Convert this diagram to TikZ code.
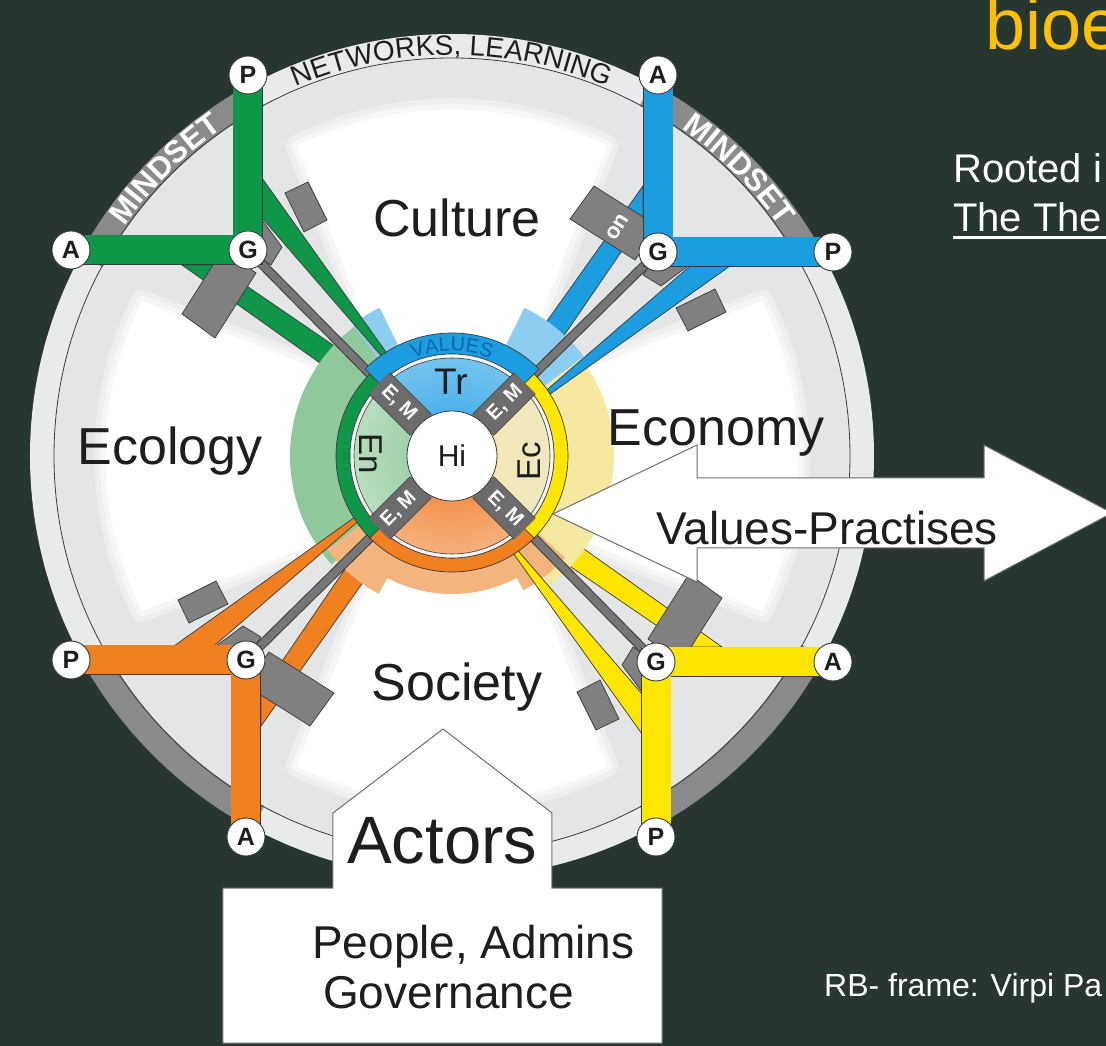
\documentclass[tikz,border=0pt]{standalone}
\usepackage{fontspec}
\setmainfont{Liberation Sans}
\usetikzlibrary{decorations.text}
\pgfdeclarelayer{front}
\pgfsetlayers{main,front}
\definecolor{bgdark}{RGB}{39,54,46}
\definecolor{ringlight}{RGB}{233,234,235}
\definecolor{innerlight}{RGB}{228,229,230}
\definecolor{fadeA}{RGB}{237,238,238}
\definecolor{fadeB}{RGB}{246,246,246}
\definecolor{bandgray}{RGB}{138,138,138}
\definecolor{edge}{RGB}{58,58,58}
\definecolor{blockgray}{RGB}{128,128,128}
\definecolor{linegray}{RGB}{118,118,118}
\definecolor{emgray}{RGB}{108,108,108}
\definecolor{cgreen}{RGB}{16,150,72}
\definecolor{cblue}{RGB}{27,157,224}
\definecolor{cyellow}{RGB}{255,230,0}
\definecolor{corange}{RGB}{240,128,32}
\definecolor{lgreen}{RGB}{143,200,155}
\definecolor{lblue}{RGB}{140,205,240}
\definecolor{lyellow}{RGB}{245,232,160}
\definecolor{lorange}{RGB}{244,180,125}
\definecolor{valblue}{RGB}{20,100,175}
\definecolor{gold}{RGB}{255,192,0}
\definecolor{txt}{RGB}{30,30,30}
\definecolor{outlinegray}{RGB}{110,110,110}
\newcommand\fsz[1]{\fontsize{#1}{#1}\selectfont}
\newcommand\annsec[4]{(#1:#3) arc[start angle=#1, end angle=#2, radius=#3] -- (#2:#4) arc[start angle=#2, end angle=#1, radius=#4] -- cycle}
\newcommand\whiteshape{(-72,96) -- (-155,310) arc[start angle=116.57, end angle=63.43, radius=346.6] -- (72,96) arc[start angle=53.13, end angle=126.87, radius=120] -- cycle}
\newcommand\quadpassA[2]{%
 \begin{scope}[rotate=#1]
  \fill[#2, draw=edge, line width=0.7] (-270,191) -- (-236,191) -- (-100,98) -- (-125,88) -- cycle;
  \fill[blockgray, draw=edge, line width=0.7] (-270,142) -- (-237,118) -- (-196,183) -- (-229,207) -- cycle;
 \end{scope}}
\newcommand\quadpassB[3]{%
 \begin{scope}[rotate=#1]
  \fill[blockgray, draw=edge, line width=0.7] (-167,263) -- (-144,274) -- (-125,236) -- (-148,224) -- cycle;
  \fill[#2, draw=edge, line width=0.7] (-190,278) -- (-190,238) -- (-49,75) -- (-44,73) -- cycle;
  \fill[blockgray, draw=edge, line width=0.7] (-190,236) -- (-170,209) -- (-181,191) -- (-190,197) -- cycle;
  \begin{pgfonlayer}{front}
   \node[pnode] (#3G) at (-204,206) {G};
   \node[pnode] (#3P) at (-204,381) {P};
   \node[pnode] (#3A) at (-381,206) {A};
  \end{pgfonlayer}
  \coordinate (#3E) at (135:103);
  \draw[line width=9.5, edge] (#3G.center) -- (#3E);
  \draw[line width=7.5, linegray] (#3G.center) -- (#3E);
  \draw[line width=30.6, edge, line join=miter] (#3P.center) -- (#3G.center) -- (#3A.center);
  \draw[line width=29, #2, line join=miter] (#3P.center) -- (#3G.center) -- (#3A.center);
 \end{scope}}
\begin{document}
\begin{tikzpicture}[x=1pt,y=1pt,
  pnode/.style={circle, draw=edge, line width=0.9, fill=white, minimum size=38, inner sep=0, font=\fsz{25}\bfseries, text=txt},
  biglab/.style={font=\fsz{52}, text=txt, anchor=base, inner sep=0},
  emlabel/.style={text=white, font=\fsz{20}\bfseries, inner sep=0},
  sectorlab/.style={font=\fsz{33}, text=txt, inner sep=0}]
\useasboundingbox (-452,-590) rectangle (654,456);
\clip (-452,-590) rectangle (654,456);
\fill[bgdark] (-452,-590) rectangle (654,456);
% outer ring
\fill[ringlight] (0,0) circle (422);
\foreach \a/\b in {118.2/151.6, 28.4/61.8, -61.8/-28.4, 208.4/241.8}
  \fill[bandgray] \annsec{\a}{\b}{397}{423};
\fill[innerlight] (0,0) circle (397);
\draw[edge, line width=0.8] (0,0) circle (398);
% white sectors
\foreach \r in {0,90,180,270}{
 \begin{scope}[rotate=\r]
  \draw[line width=22, fadeA, line join=round] \whiteshape;
  \draw[line width=11, fadeB, line join=round] \whiteshape;
  \fill[white] \whiteshape;
 \end{scope}}
% spokes pass 1
\quadpassA{0}{cgreen}
\quadpassA{-90}{cblue}
\quadpassA{180}{cyellow}
\quadpassA{90}{corange}
% light arcs
\fill[lgreen] \annsec{127}{222}{110}{162};
\fill[lblue] \annsec{116}{127}{110}{165};
\fill[lblue] \annsec{37}{64}{110}{165};
\fill[lyellow] \annsec{-53}{37}{110}{162};
\fill[lorange] \annsec{217}{318}{110}{138};
\fill[lorange] \annsec{217}{242}{110}{156};
\fill[lorange] \annsec{298}{318}{110}{152};
% spokes pass 2
\quadpassB{0}{cgreen}{tl}
\quadpassB{-90}{cblue}{tr}
\quadpassB{180}{cyellow}{br}
\quadpassB{90}{corange}{bl}
\node[text=white, font=\fsz{22}\bfseries, rotate=58, inner sep=0] (onfrag) at (166,229) {on};
% saturated ring
\fill[cgreen, draw=edge, line width=0.7] \annsec{135}{225}{102}{116};
\fill[corange, draw=edge, line width=0.7] \annsec{225}{315}{102}{116};
\fill[cyellow, draw=edge, line width=0.7] \annsec{-45}{45}{102}{116};
\fill[cblue, draw=edge, line width=0.7] \annsec{45}{135}{102}{123};
\path[decorate, decoration={text along path, text align=center,
   text={|\fsz{20}\color{valblue}|VALUES}}] (118:105) arc[start angle=118, end angle=62, radius=105];
\fill[white!92!gray, draw=edge, line width=0.6] (0,0) circle (102);
% inner quadrants
\begin{scope}
 \clip (0,0) -- (45:98) arc[start angle=45, end angle=135, radius=98] -- cycle;
 \shade[inner color={rgb,255:red,45;green,165;blue,232}, outer color={rgb,255:red,185;green,224;blue,246}] (0,0) circle (196);
\end{scope}
\begin{scope}
 \clip (0,0) -- (135:98) arc[start angle=135, end angle=225, radius=98] -- cycle;
 \shade[inner color={rgb,255:red,140;green,200;blue,152}, outer color={rgb,255:red,228;green,242;blue,230}] (0,0) circle (196);
\end{scope}
\begin{scope}
 \clip (0,0) -- (225:98) arc[start angle=225, end angle=315, radius=98] -- cycle;
 \shade[inner color={rgb,255:red,240;green,122;blue,36}, outer color={rgb,255:red,251;green,232;blue,214}] (0,0) circle (196);
\end{scope}
\begin{scope}
 \clip (0,0) -- (-45:98) arc[start angle=-45, end angle=45, radius=98] -- cycle;
 \shade[inner color={rgb,255:red,242;green,230;blue,175}, outer color={rgb,255:red,240;green,234;blue,208}] (0,0) circle (196);
\end{scope}
\draw[edge, line width=0.6] (0,0) circle (98);
\foreach \a/\rt in {135/-45, 45/45, 225/45, 315/-45}{
  \draw[line width=30.5, edge] (\a:44) -- (\a:103);
  \draw[line width=29, emgray] (\a:44) -- (\a:103);
  \node[emlabel, rotate=\rt] (em\a) at (\a:75) {E, M};
}
\node[circle, fill=white, draw=edge, line width=0.8, minimum size=90, inner sep=0, font=\fsz{30}, text=txt] (hi) at (0,0) {Hi};
\node[sectorlab, font=\fsz{37}] (tr) at (-1,74) {Tr};
\node[sectorlab, rotate=-90] (en) at (-81,2) {En};
\node[sectorlab, rotate=90] (ec) at (77,-5) {Ec};
% outer ring texts
\path[decorate, decoration={text along path, text align=center,
   text={|\fsz{31}\bfseries\color{white}|MINDSET}}] (153:400) arc[start angle=153, end angle=117, radius=400];
\path[decorate, decoration={text along path, text align=center,
   text={|\fsz{31}\bfseries\color{white}|MINDSET}}] (63:400) arc[start angle=63, end angle=27, radius=400];
\path[decorate, decoration={text along path, text align=center,
   text={|\fsz{28}\color{txt}|NETWORKS, LEARNING}}] (117:401) arc[start angle=117, end angle=63, radius=401];
% sector labels
\node[biglab] (culture) at (5,219) {Culture};
\node[biglab] (ecology) at (-282,-9) {Ecology};
\node[biglab] (society) at (5,-245) {Society};
% values arrow
\filldraw[fill=white, draw=outlinegray, line width=1] (101,-58) -- (245,11) -- (245,-22) -- (532,-22) -- (532,11) -- (660,-57) -- (532,-125) -- (532,-92) -- (245,-92) -- (245,-126) -- cycle;
\node[biglab] (economy) at (264,10) {Economy};
\node[font=\fsz{46}, text=txt, anchor=base west, inner sep=0] (values) at (204,-89) {Values-Practises};
% actors
\filldraw[fill=white, draw=outlinegray, line width=1] (-9,-273) -- (100,-357) -- (100,-432) -- (210,-432) -- (210,-587) -- (-229,-587) -- (-229,-432) -- (-119,-432) -- (-119,-357) -- cycle;
\node[font=\fsz{67}, text=txt, anchor=base west, inner sep=0] (actors) at (-105,-407) {Actors};
\node[font=\fsz{46}, text=txt, anchor=base west, inner sep=0] (people) at (-140,-502) {People, Admins};
\node[font=\fsz{46}, text=txt, anchor=base west, inner sep=0] (gov) at (-129,-552) {Governance};
% right texts
\node[font=\fsz{72}, text=gold, anchor=base west, inner sep=0] (bioe) at (533,406) {bioe};
\node[font=\fsz{40}, text=white, anchor=base west, inner sep=0] (rooted) at (501,273) {Rooted i};
\node[font=\fsz{40}, text=white, anchor=base west, inner sep=0] (thethe) at (501,224) {The The};
\draw[white, line width=3] ([yshift=-6]thethe.base west) -- ([yshift=-6, xshift=10]thethe.base east);
\node[font=\fsz{32}, text=white, anchor=base west, inner sep=0] (credit) at (372,-540) {RB- frame: Virpi Pa};
\end{tikzpicture}
\end{document}
